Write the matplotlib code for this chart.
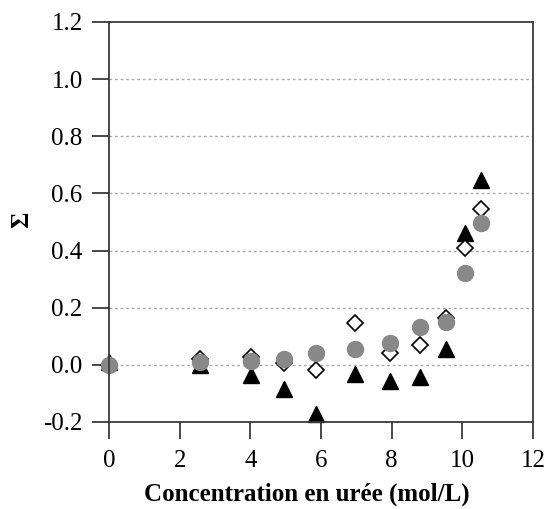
import matplotlib
matplotlib.use("Agg")
import matplotlib.pyplot as plt

# Data
conc = [0, 2.58, 4.02, 4.95, 5.87, 6.95, 7.96, 8.79, 9.53, 10.08, 10.53]
circles = [0.0, 0.01, 0.013, 0.022, 0.041, 0.057, 0.076, 0.134, 0.149, 0.32, 0.498]
diamonds = [0.0, 0.02, 0.028, 0.008, -0.019, 0.146, 0.041, 0.071, 0.165, 0.409, 0.544]
triangles = [0.01, 0.0, -0.036, -0.085, -0.171, -0.033, -0.058, -0.041, 0.055, 0.462, 0.646]
xticks = [0, 2, 4, 6, 8, 10, 12]
yticks = [-0.2, 0.0, 0.2, 0.4, 0.6, 0.8, 1.0, 1.2]
ytick_labels = ["-0.2", "0.0", "0.2", "0.4", "0.6", "0.8", "1.0", "1.2"]

plt.rcParams['font.family'] = ['Liberation Serif', 'DejaVu Serif']

fig = plt.figure(figsize=(5.48, 5.09), dpi=100)
ax = fig.add_axes([109/548, 1-422/509, (533-109)/548, (422-22)/509])

ax.plot(conc, triangles, linestyle='none', marker='^', markersize=11.5,
        color='black', zorder=3, clip_on=False)
ax.plot(conc, diamonds, linestyle='none', marker='D', markersize=8,
        markerfacecolor='white', markeredgecolor='black', markeredgewidth=1.2,
        zorder=4, clip_on=False)
ax.plot(conc, circles, linestyle='none', marker='o', markersize=11.5,
        color='#888888', zorder=5, clip_on=False)

ax.set_xlim(0, 12)
ax.set_ylim(-0.2, 1.2)
ax.set_xticks(xticks)
ax.set_yticks(yticks)
ax.set_yticklabels(ytick_labels)

for y in yticks[1:-1]:
    ax.axhline(y, color='#aaaaaa', linestyle=(0, (2, 2)), linewidth=1.0, zorder=1)

for s in ax.spines.values():
    s.set_color('#3a3a3a')
    s.set_linewidth(1.3)
    s.set_zorder(6)

ax.tick_params(axis='both', direction='out', length=12, width=1.3,
               color='#3a3a3a', labelsize=18, pad=7)
ax.tick_params(axis='x', pad=8)

ax.set_xlabel('Concentration en urée (mol/L)', fontsize=18, fontweight='bold')
ax.xaxis.set_label_coords(0.467, -0.152)
ax.set_ylabel('Σ', fontsize=18, fontweight='bold')
ax.yaxis.set_label_coords(-0.178, 0.505)

fig.savefig('out.png', dpi=100)
